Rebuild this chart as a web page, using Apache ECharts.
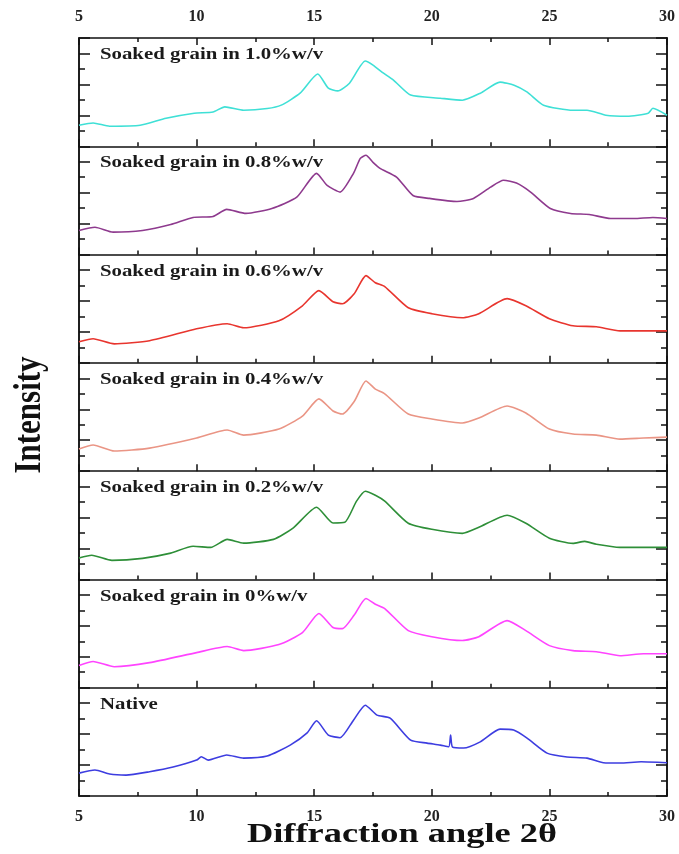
<!DOCTYPE html>
<html>
<head>
<meta charset="utf-8">
<script src="https://cdn.jsdelivr.net/npm/echarts@6/dist/echarts.min.js"></script>
<style>
  html, body { margin: 0; padding: 0; background: #fff; }
  #chart { width: 679px; height: 854px; }
</style>
</head>
<body>
<div id="chart"></div>
<script>
// XRD patterns, [2theta, intensity in panel units 0..7]
var soak10 = [[5,1.36],[5.6,1.51],[6.3,1.30],[7.6,1.36],[8.7,1.81],[9.9,2.14],[10.7,2.22],[11.2,2.55],[12,2.33],[13,2.44],
  [13.6,2.66],[14.4,3.43],[15.15,4.67],[15.6,3.76],[16,3.58],[16.5,4.08],[17.17,5.51],[17.5,5.25],[17.88,4.80],[18.37,4.28],
  [19.1,3.31],[20.36,3.11],[21.3,2.98],[22.06,3.43],[22.9,4.15],[23.5,3.95],[24.06,3.50],[24.75,2.66],[26,2.33],[26.6,2.33],
  [27.4,2.01],[28.3,1.94],[29.2,2.14],[29.4,2.46],[30,2.01]];
var soak08 = [[5,1.56],[5.68,1.77],[6.45,1.45],[7.7,1.56],[8.9,1.94],[9.85,2.40],[10.7,2.46],[11.28,2.92],[12.1,2.66],[13.2,2.98],
  [14.26,3.71],[15.1,5.25],[15.55,4.47],[16.1,4.04],[16.67,5.25],[16.96,6.22],[17.2,6.42],[17.5,5.96],[17.8,5.57],[18.5,5.01],
  [19.2,3.82],[19.9,3.63],[21.07,3.43],[21.77,3.63],[22.5,4.36],[23.05,4.80],[23.6,4.62],[24.2,4.04],[25.04,2.98],[25.9,2.66],
  [26.7,2.59],[27.6,2.33],[28.6,2.33],[29.4,2.40],[30,2.33]];
var soak06 = [[5,1.36],[5.6,1.56],[6.5,1.23],[8,1.43],[10,2.20],[11.3,2.53],[12,2.27],[13.5,2.72],[14.5,3.69],[15.2,4.67],
  [15.8,3.95],[16.2,3.82],[16.7,4.47],[17.2,5.64],[17.6,5.18],[18,4.93],[19,3.56],[20,3.18],[21.3,2.92],[22,3.18],
  [23.2,4.15],[24,3.69],[25,2.85],[26,2.40],[27,2.33],[28,2.07],[29,2.07],[30,2.07]];
var soak04 = [[5,1.43],[5.6,1.69],[6.5,1.30],[8,1.49],[10,2.14],[11.3,2.66],[12,2.33],[13.5,2.72],[14.5,3.56],[15.2,4.67],
  [15.8,3.89],[16.2,3.69],[16.7,4.50],[17.2,5.83],[17.6,5.30],[18,5.00],[19,3.69],[20,3.37],[21.3,3.11],[22,3.43],
  [23.2,4.21],[24,3.76],[25,2.72],[26,2.40],[27,2.33],[28,2.07],[29,2.14],[30,2.20]];
var soak02 = [[5,1.38],[5.54,1.56],[6.4,1.23],[7.7,1.36],[8.9,1.70],[9.85,2.14],[10.6,2.07],[11.3,2.59],[12,2.35],[13.27,2.59],
  [14.1,3.32],[15.1,4.67],[15.8,3.65],[16.3,3.69],[16.8,5.06],[17.17,5.70],[17.6,5.44],[18,5.06],[19,3.63],[20,3.24],
  [21.3,2.98],[22,3.37],[23.2,4.15],[24,3.63],[25,2.66],[26,2.33],[26.5,2.46],[27,2.27],[28,2.07],[29,2.07],[30,2.07]];
var soak00 = [[5,1.43],[5.6,1.69],[6.5,1.36],[8,1.62],[10,2.27],[11.3,2.66],[12,2.40],[13.5,2.79],[14.5,3.56],[15.2,4.80],
  [15.8,3.89],[16.2,3.82],[16.7,4.70],[17.2,5.77],[17.6,5.40],[18,5.12],[19,3.69],[20,3.30],[21.3,3.05],[22,3.30],
  [23.2,4.34],[24,3.69],[25,2.72],[26,2.40],[27,2.33],[28,2.07],[29,2.20],[30,2.20]];
var nativeGrain = [[5,1.48],[5.68,1.68],[6.3,1.42],[7,1.35],[8,1.57],[9,1.87],[10,2.32],[10.2,2.54],[10.5,2.32],[11.28,2.65],
  [12,2.45],[13,2.58],[13.98,3.29],[14.7,4.08],[15.1,4.86],[15.6,3.94],[16.1,3.77],[16.67,4.90],[17.17,5.87],[17.67,5.23],
  [18.23,5.03],[19.1,3.61],[19.8,3.42],[20.36,3.29],[20.72,3.18],[20.8,3.94],[20.88,3.16],[21.35,3.10],[22.06,3.50],[22.9,4.32],
  [23.48,4.26],[24.05,3.74],[24.9,2.77],[25.75,2.52],[26.6,2.45],[27.3,2.15],[28,2.13],[28.9,2.21],[30,2.15]];

var panelData = [soak10, soak08, soak06, soak04, soak02, soak00, nativeGrain];
var panelNames = ['Soaked grain in 1.0%w/v', 'Soaked grain in 0.8%w/v', 'Soaked grain in 0.6%w/v',
  'Soaked grain in 0.4%w/v', 'Soaked grain in 0.2%w/v', 'Soaked grain in 0%w/v', 'Native'];
var panelColors = ['#3fe0d6', '#8e3a8e', '#e8352e', '#ea9585', '#2e8f38', '#ff44ff', '#3d3de0'];

var chart = echarts.init(document.getElementById('chart'));

var TOP = 38, BOTTOM = 796, LEFT = 79, WIDTH = 588;
var panelH = (BOTTOM - TOP) / 7;
var serif = '"Liberation Serif", "Times New Roman", serif';

var grids = [], xAxes = [], yAxes = [], series = [], graphics = [];

for (var i = 0; i < 7; i++) {
    var panelTop = TOP + i * panelH;
    grids.push({ left: LEFT, width: WIDTH, top: panelTop, height: panelH, outerBoundsMode: 'none' });

    xAxes.push({
        gridIndex: i, type: 'value', min: 5, max: 30, interval: 5, position: 'bottom',
        axisLine: { show: true, onZero: false, lineStyle: { color: '#111', width: 1.5 } },
        axisTick: { show: true, inside: true, length: 7, lineStyle: { color: '#111', width: 1.5 } },
        minorTick: { show: true, splitNumber: 2, length: 4, lineStyle: { color: '#111', width: 1.5 } },
        splitLine: { show: false },
        axisLabel: { show: i === 6, margin: 13, color: '#222', fontFamily: serif, fontWeight: 'bold', fontSize: 16 }
    });

    // left / right borders: short ticks every unit, long ticks every 2 units
    ['left', 'right'].forEach(function (pos) {
        [[1, 6], [2, 11]].forEach(function (t) {
            yAxes.push({
                gridIndex: i, type: 'value', min: 0, max: 7, interval: t[0], position: pos,
                axisLine: { show: true, onZero: false, lineStyle: { color: '#111', width: 1.5 } },
                axisTick: { show: true, inside: true, length: t[1], lineStyle: { color: '#111', width: 1.5 } },
                axisLabel: { show: false },
                splitLine: { show: false }
            });
        });
    });

    series.push({
        name: panelNames[i], type: 'line', xAxisIndex: i, yAxisIndex: i * 4,
        data: panelData[i], showSymbol: false, smooth: 0.2,
        lineStyle: { color: panelColors[i], width: 1.6 },
        silent: true
    });

    graphics.push({
        type: 'text', x: 100, y: panelTop + 17, scaleX: 1.3,
        style: { text: panelNames[i], font: 'bold 16px ' + serif, fill: '#1a1a1a', verticalAlign: 'middle' }
    });
}

// top axis of the first panel
xAxes.push({
    gridIndex: 0, type: 'value', min: 5, max: 30, interval: 5, position: 'top',
    axisLine: { show: true, onZero: false, lineStyle: { color: '#111', width: 1.5 } },
    axisTick: { show: true, inside: true, length: 7, lineStyle: { color: '#111', width: 1.5 } },
    minorTick: { show: true, splitNumber: 2, length: 4, lineStyle: { color: '#111', width: 1.5 } },
    splitLine: { show: false },
    axisLabel: { show: true, margin: 13, color: '#222', fontFamily: serif, fontWeight: 'bold', fontSize: 16 }
});

graphics.push({
    type: 'text', x: 402, y: 835, scaleX: 1.3,
    style: { text: 'Diffraction angle 2θ', font: 'bold 28px ' + serif, fill: '#111', align: 'center', verticalAlign: 'middle' }
});
graphics.push({
    type: 'text', x: 30, y: 415, rotation: Math.PI / 2, scaleY: 1.25,
    style: { text: 'Intensity', font: 'bold 31px ' + serif, fill: '#111', align: 'center', verticalAlign: 'middle' }
});

var option = {
    backgroundColor: '#fff',
    animation: false,
    grid: grids,
    xAxis: xAxes,
    yAxis: yAxes,
    series: series,
    graphic: graphics
};
chart.setOption(option);
</script>
</body>
</html>
